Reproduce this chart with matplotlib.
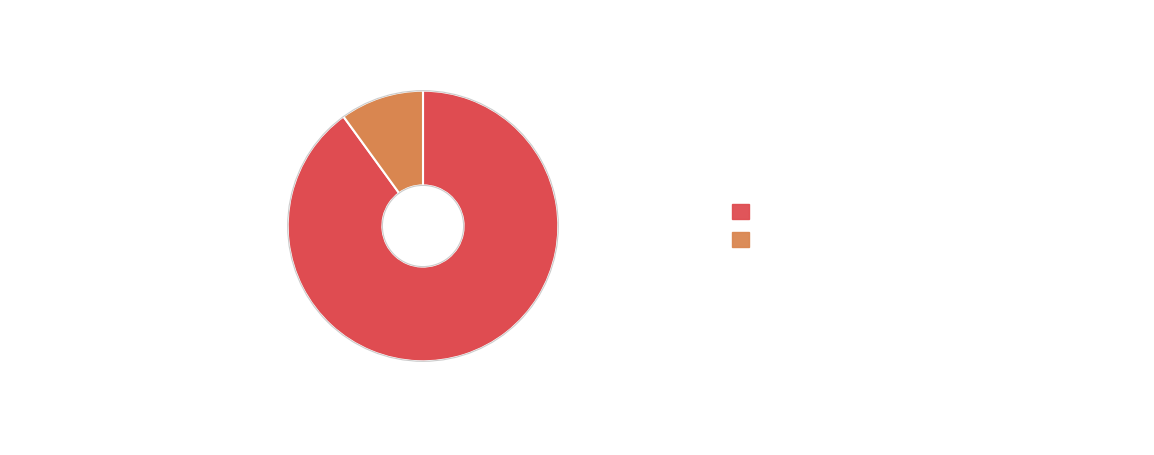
import matplotlib.pyplot as plt
from matplotlib.patches import Patch, Circle

# share of each slice
categories = ['', '']
values = [90, 10]
colors = ['#df4c51', '#d98650']

W, H = 1154, 455
fig = plt.figure(figsize=(W / 100, H / 100), dpi=100)

cx, cy, r = 423, 226, 136
ax = fig.add_axes([(cx - r) / W, (H - cy - r) / H, 2 * r / W, 2 * r / H])

inner = 0.3
ax.pie(values, colors=colors, startangle=90, counterclock=False, radius=1,
       wedgeprops=dict(width=1 - inner, edgecolor='white', linewidth=1.5))
ax.add_patch(Circle((0, 0), 1.0, fill=False, edgecolor='#cccccc', linewidth=0.8))
ax.add_patch(Circle((0, 0), inner, fill=False, edgecolor='#cccccc', linewidth=0.8))
# pie() resets the limits, so fix them afterwards
ax.set_xlim(-1.005, 1.005)
ax.set_ylim(-1.005, 1.005)
ax.axis('off')

handles = [Patch(facecolor=c, edgecolor=c, alpha=0.95) for c in colors]
fig.legend(handles, categories, loc='upper left',
           bbox_to_anchor=(732 / W, 1 - 203 / H), frameon=False,
           fontsize=12, handlelength=1.02, handleheight=1.02,
           borderpad=0, borderaxespad=0, handletextpad=0, labelspacing=0.62)

fig.savefig('out.png', dpi=100, facecolor='white')
